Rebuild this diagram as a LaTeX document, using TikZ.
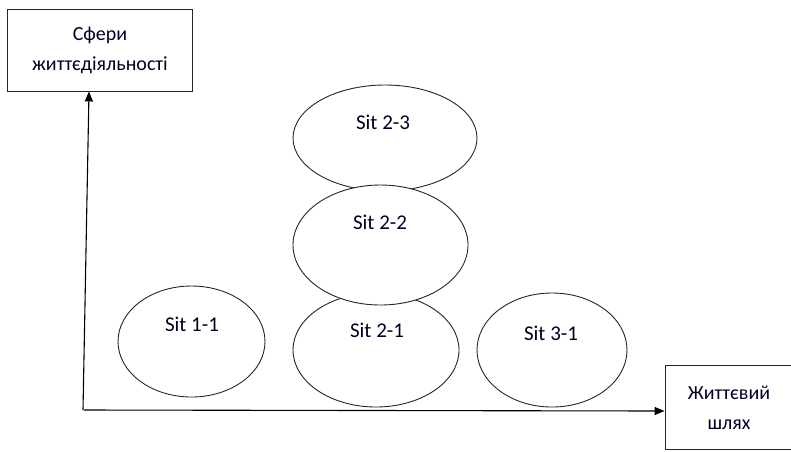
\documentclass[tikz,border=0pt]{standalone}
\usepackage{fontspec}
\setmainfont{Carlito}
\usetikzlibrary{shapes.geometric,arrows.meta}
\begin{document}
\begin{tikzpicture}[x=1pt,y=-1pt,
  sit/.style={draw=black!85,line width=0.9pt,fill=white,ellipse,inner sep=0pt},
  lbl/.style={font=\fontsize{21}{24}\selectfont,text=black!85!blue,inner sep=0pt},
  boxtxt/.style={font=\fontsize{20}{30}\selectfont,text=black!85!blue,align=center,inner sep=0pt},
  frame/.style={draw=black!85,line width=0.9pt},
  axis/.style={draw=black,line width=1.1pt,-{Triangle[length=10pt,width=8pt]}}]
\useasboundingbox (0,0) rectangle (791,451);
% boxes
\node[frame,minimum width=185pt,minimum height=82pt,inner sep=0pt] (sf) at (99.5,50) {};
\node[boxtxt] (sft) at (100,50) {Сфери\\життєдіяльності};
\node[frame,minimum width=150pt,minimum height=84pt,inner sep=0pt] (zs) at (740,407) {};
\node[boxtxt] (zst) at (729,408) {Життєвий\\шлях};
% axes
\coordinate (o) at (83,410);
\coordinate (ox) at (84,410);
\draw[axis] (o) -- (sf.south -| 89,0);
\draw[axis] (ox) -- (zs.west |- 0,411);
% ellipses
\node[sit,minimum width=147pt,minimum height=111pt] (s11) at (191.5,341.5) {};
\node[lbl] (t11) at (192,324) {Sit 1-1};
\node[sit,minimum width=184pt,minimum height=106pt] (s23) at (385,138) {};
\node[lbl] (t23) at (383,122) {Sit 2-3};
\node[sit,minimum width=166pt,minimum height=114pt] (s21) at (376,350) {};
\node[lbl] (t21) at (377,330) {Sit 2-1};
\node[sit,minimum width=175pt,minimum height=120pt] (s22) at (380.5,245) {};
\node[lbl] (t22) at (380,222) {Sit 2-2};
\node[sit,minimum width=150pt,minimum height=114pt] (s31) at (552,350) {};
\node[lbl] (t31) at (551,333) {Sit 3-1};
\end{tikzpicture}
\end{document}
